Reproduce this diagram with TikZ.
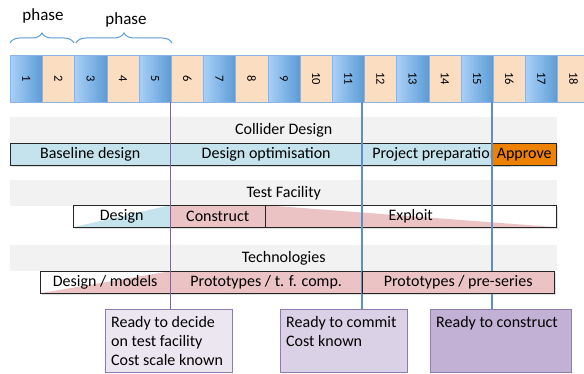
\documentclass[tikz,border=0pt]{standalone}
\usepackage{fontspec}
\setmainfont{Carlito}
\usetikzlibrary{decorations.pathreplacing,shadows}

\definecolor{yearblue}{HTML}{5B9BD5}
\definecolor{yearlight}{HTML}{AAD0F8}
\definecolor{yearpeach}{HTML}{FBDDC2}
\definecolor{yearedge}{HTML}{8DB3E2}
\definecolor{bandgray}{HTML}{F2F2F2}
\definecolor{barblue}{HTML}{C4E3EC}
\definecolor{barpink}{HTML}{EBC3C4}
\definecolor{approveorange}{HTML}{EE8100}
\definecolor{gatepurple}{HTML}{8064A2}
\definecolor{gateblue}{HTML}{5B8FC8}
\definecolor{msedge}{HTML}{8D7DAE}
\definecolor{msone}{HTML}{ECE6F1}
\definecolor{mstwo}{HTML}{DAD1E6}
\definecolor{msthree}{HTML}{C2B0D5}

\begin{document}
\begin{tikzpicture}[x=1pt, y=-1pt,
  year/.style = {draw=yearedge, minimum width=32.2pt, minimum height=47pt, inner sep=0pt, anchor=north west, font=\fontsize{12.5}{14}\selectfont},
  yearodd/.style = {year, left color=yearlight, right color=yearblue},
  yeareven/.style = {year, fill=yearpeach},
  band/.style = {fill=bandgray, minimum width=547pt, minimum height=26pt, inner sep=0pt, anchor=north west, font=\fontsize{16}{18}\selectfont},
  bar/.style = {draw=black!85, minimum height=22pt, inner sep=0pt, anchor=north west, font=\fontsize{16}{18}\selectfont, drop shadow={opacity=.25, shadow xshift=1.5pt, shadow yshift=-1.5pt}},
  risetri/.style = {path picture={\fill[#1] (path picture bounding box.south west) -- (path picture bounding box.north east) -- (path picture bounding box.south east) -- cycle;}},
  falltri/.style = {path picture={\fill[#1] (path picture bounding box.north west) -- (path picture bounding box.south west) -- (path picture bounding box.south east) -- cycle;}},
  milestone/.style = {draw=msedge, inner xsep=6pt, inner ysep=4pt, anchor=north west, font=\fontsize{16}{19}\selectfont},
  gate/.style = {line width=1.3pt},
  phasebrace/.style = {draw=yearblue, line width=1pt, decorate, decoration={brace, amplitude=10pt}},
  phaselabel/.style = {font=\fontsize{17}{19}\selectfont}
]
\useasboundingbox (0,0) rectangle (584,374);

\foreach \i in {1,3,...,17}
  \node[yearodd] (y\i) at ({10+(\i-1)*32.2},55) {\rotatebox{-90}{\i}};
\foreach \i in {2,4,...,18}
  \node[yeareven] (y\i) at ({10+(\i-1)*32.2},55) {\rotatebox{-90}{\i}};

\draw[phasebrace] (10,43) -- (74,43);
\draw[phasebrace] (76,43) -- (172,43);
\node[phaselabel] (phaseone) at (43,16) {phase};
\node[phaselabel] (phasetwo) at (126,20) {phase};

\node[band] (colliderband) at (10,117) {Collider Design};
\node[bar, fill=barblue, minimum width=160pt] (baseline) at (10,143) {Baseline design};
\node[bar, fill=barblue, minimum width=192pt] (optimise) at (170,143) {Design optimisation};
\node[bar, fill=barblue, minimum width=146pt] (preparation) at (362,143) {Project preparation};
\node[bar, fill=approveorange, minimum width=64pt] (approve) at (492,143) {Approve};

\node[band] (testband) at (10,180) {Test Facility};
\node[bar, fill=white, risetri=barblue, minimum width=97pt] (tfdesign) at (73,205) {Design};
\node[bar, fill=barpink, minimum width=95pt] (construct) at (170,205) {Construct};
\node[bar, fill=white, falltri=barpink, minimum width=291pt] (exploit) at (265,205) {Exploit};

\node[band] (techband) at (10,245) {Technologies};
\node[bar, fill=white, risetri=barpink, minimum width=130pt] (models) at (40,271) {Design / models};
\node[bar, fill=barpink, minimum width=192pt] (tfcomp) at (170,271) {Prototypes / t. f. comp.};

\node[milestone, fill=msone] (ms1) at (105,309) {\parbox[t][55pt][t]{115pt}{\vspace*{3pt}Ready to decide\\on test facility\\Cost scale known}};
\node[milestone, fill=mstwo] (ms2) at (280,309) {\parbox[t][55pt][t]{115pt}{\vspace*{3pt}Ready to commit\\Cost known}};
\node[milestone, fill=msthree] (ms3) at (430,309) {\parbox[t][55pt][t]{129pt}{\vspace*{3pt}Ready to construct}};

\draw[gate, gatepurple] (baseline.north east |- y6.south) -- (baseline.north east |- ms1.north);
\draw[gate, gateblue] (preparation.north west |- y12.south) -- (preparation.north west |- ms2.north);
\draw[gate, gateblue] (approve.north west |- y16.south) -- (approve.north west |- ms3.north);

\node[bar, fill=barpink, minimum width=192pt] (preseries) at (362,271) {Prototypes / pre-series};
\end{tikzpicture}
\end{document}
